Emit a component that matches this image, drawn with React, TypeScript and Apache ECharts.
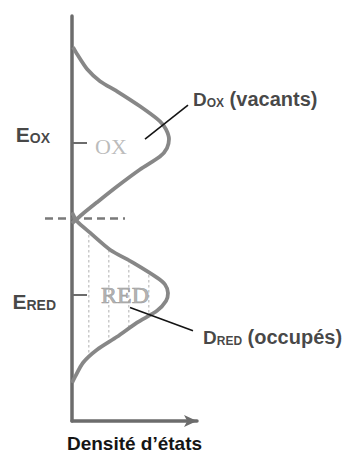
import React, { useEffect, useRef } from 'react';
import * as echarts from 'echarts';

// Density of states of the oxidised species (vacant states), read from top to bottom
const oxDensity = [0.8, 4, 12, 22.4, 36, 54.4, 70.4, 75.2, 77.6, 76, 70.4, 54.4, 36, 20, 8, 0];
const oxEnergy = [92.3, 90.6, 86.9, 83.9, 81.4, 77.7, 74.0, 72.0, 69.6, 67.4, 65.3, 62.1, 57.9, 54.0, 51.0, 48.8];

// Density of states of the reduced species (occupied states)
const redDensity = [0, 4, 14.4, 30.4, 48.8, 68, 74.4, 76.8, 75.2, 68, 52, 36, 20, 8.8, 2.4, 0];
const redEnergy = [51.5, 49.3, 46.5, 42.3, 39.1, 35.4, 33.7, 31.6, 29.6, 27.2, 24.3, 20.8, 17.6, 14.4, 10.9, 9.4];

// Energy levels (labels on the energy axis)
const levelNames = ['OX', 'RED'];
const levelEnergies = [68.8, 31.2];

// In-band labels
const bandNames = ['OX', 'RED'];
const bandDensity = [31.2, 42.4];
const bandEnergy = [67.9, 31.0];

// Dashed level between the two bands
const fermiEnergy = 50.0;
const fermiDensitySpan = [-21.6, 42.4];

// Annotation leader lines: [density, energy] from curve to label
const oxPointerDensity = [58.4, 92.8];
const oxPointerEnergy = [69.6, 78.0];
const redPointerDensity = [46.4, 96.8];
const redPointerEnergy = [28.0, 22.3];
const annotationSubs = ['OX', 'RED'];
const annotationTexts = [' (vacants)', ' (occupés)'];

const xAxisName = 'Densité d’états';

const SANS = '"Liberation Sans", Arial, sans-serif';
const SERIF = '"Liberation Serif", "Times New Roman", serif';
const AXIS_COLOR = '#6c6c6c';
const CURVE_COLOR = '#878787';
const TEXT_COLOR = '#151515';

function zip(a: number[], b: number[]) {
  return a.map((v, i) => [v, b[i]]);
}

function makePattern() {
  const c = document.createElement('canvas');
  c.width = 20;
  c.height = 5;
  const ctx = c.getContext('2d');
  if (ctx) {
    ctx.fillStyle = 'rgba(150,150,150,0.5)';
    ctx.fillRect(8, 0, 1.5, 2.5);
  }
  return { image: c.toDataURL(), repeat: 'repeat', imageWidth: 20, imageHeight: 5 };
}

export default function App() {
  const ref = useRef<HTMLDivElement>(null);

  useEffect(() => {
    if (!ref.current) return;
    const chart = echarts.init(ref.current, undefined, { renderer: 'svg' });
    const redPoints = zip(redDensity, redEnergy);
    const pattern = makePattern();

    const option: any = {
      animation: false,
      backgroundColor: '#ffffff',
      grid: { left: 72, right: 145, top: 16, bottom: 32, containLabel: false, outerBoundsMode: 'none' },
      xAxis: {
        type: 'value',
        min: 0,
        max: 100,
        name: xAxisName,
        nameLocation: 'middle',
        nameGap: 13,
        nameTextStyle: { fontFamily: SANS, fontSize: 19, fontWeight: 'bold', color: TEXT_COLOR },
        axisLine: {
          show: true,
          onZero: false,
          symbol: ['none', 'arrow'],
          symbolSize: [9, 13],
          lineStyle: { color: AXIS_COLOR, width: 3.5 },
        },
        axisTick: { show: false },
        axisLabel: { show: false },
        splitLine: { show: false },
      },
      yAxis: {
        type: 'value',
        min: 0,
        max: 100,
        axisLine: { show: true, onZero: false, lineStyle: { color: AXIS_COLOR, width: 3.5 } },
        axisTick: {
          show: true,
          inside: true,
          length: 15,
          customValues: levelEnergies,
          lineStyle: { color: AXIS_COLOR, width: 2 },
        },
        axisLabel: { show: false },
        splitLine: { show: false },
      },
      series: [
        {
          type: 'custom',
          name: 'redFill',
          z: 1,
          data: redPoints,
          renderItem: (params: any, api: any) => {
            if (params.dataIndex !== 0) return null;
            const pts = redPoints.map((p) => api.coord(p));
            return {
              type: 'polygon',
              shape: { points: pts, smooth: 0.25 },
              style: { fill: pattern, stroke: 'none' },
            };
          },
        },
        {
          type: 'custom',
          name: 'level',
          z: 2,
          data: [fermiEnergy],
          renderItem: (params: any, api: any) => {
            const a = api.coord([fermiDensitySpan[0], fermiEnergy]);
            const b = api.coord([fermiDensitySpan[1], fermiEnergy]);
            return {
              type: 'line',
              shape: { x1: a[0], y1: a[1], x2: b[0], y2: b[1] },
              style: { stroke: '#7a7a7a', lineWidth: 2.5, lineDash: [8, 5] },
            };
          },
        },
        {
          type: 'line',
          name: 'OX',
          z: 3,
          data: zip(oxDensity, oxEnergy),
          smooth: 0.25,
          symbol: 'none',
          clip: false,
          lineStyle: { color: CURVE_COLOR, width: 3.8 },
        },
        {
          type: 'line',
          name: 'RED',
          z: 3,
          data: redPoints,
          smooth: 0.25,
          symbol: 'none',
          clip: false,
          lineStyle: { color: CURVE_COLOR, width: 3.8 },
        },
        {
          type: 'line',
          name: 'oxPointer',
          z: 4,
          data: zip(oxPointerDensity, oxPointerEnergy),
          symbol: 'none',
          clip: false,
          lineStyle: { color: '#141414', width: 1.6 },
        },
        {
          type: 'line',
          name: 'redPointer',
          z: 4,
          data: zip(redPointerDensity, redPointerEnergy),
          symbol: 'none',
          clip: false,
          lineStyle: { color: '#141414', width: 1.6 },
        },
        {
          type: 'scatter',
          name: 'levelLabels',
          z: 5,
          clip: false,
          symbolSize: 0,
          data: [
            { value: [0, levelEnergies[0]], label: { offset: [-6, -8] } },
            { value: [0, levelEnergies[1]], label: { offset: [0, 6] } },
          ],
          label: {
            show: true,
            position: 'left',
            distance: 16,
            formatter: (p: any) => `{e|E}{s|${levelNames[p.dataIndex]}}`,
            rich: {
              e: { fontFamily: SANS, fontSize: 21, fontWeight: 'bold', color: TEXT_COLOR, lineHeight: 22, verticalAlign: 'bottom' },
              s: { fontFamily: SANS, fontSize: 14, fontWeight: 'bold', color: TEXT_COLOR, lineHeight: 10, verticalAlign: 'bottom' },
            },
          },
        },
        {
          type: 'scatter',
          name: 'annotations',
          z: 5,
          clip: false,
          symbolSize: 0,
          data: [
            { value: [oxPointerDensity[1], oxPointerEnergy[1]], label: { offset: [5, -7] } },
            { value: [redPointerDensity[1], redPointerEnergy[1]], label: { offset: [10, 5.5] } },
          ],
          label: {
            show: true,
            position: 'right',
            distance: 0,
            formatter: (p: any) => `{d|D}{s|${annotationSubs[p.dataIndex]}}{t|${annotationTexts[p.dataIndex]}}`,
            rich: {
              d: { fontFamily: SANS, fontSize: 19, fontWeight: 'bold', color: TEXT_COLOR, lineHeight: 22, verticalAlign: 'bottom' },
              s: { fontFamily: SANS, fontSize: 12, fontWeight: 'bold', color: TEXT_COLOR, lineHeight: 10, verticalAlign: 'bottom' },
              t: { fontFamily: SANS, fontSize: 20, fontWeight: 'bold', color: TEXT_COLOR, lineHeight: 22, verticalAlign: 'bottom' },
            },
          },
        },
        {
          type: 'scatter',
          name: 'bandLabels',
          z: 5,
          clip: false,
          symbolSize: 0,
          data: [
            { value: [bandDensity[0], bandEnergy[0]], label: { color: '#aaaaaa', textBorderWidth: 0 } },
            { value: [bandDensity[1], bandEnergy[1]], label: { fontSize: 24 } },
          ],
          label: {
            show: true,
            position: 'inside',
            formatter: (p: any) => bandNames[p.dataIndex],
            fontFamily: SERIF,
            fontSize: 22,
            color: '#a0a0a0',
            textBorderColor: '#888888',
            textBorderWidth: 0.7,
          },
        },
      ],
    };
    chart.setOption(option);
    return () => chart.dispose();
  }, []);

  return (
    <div
      ref={ref}
      style={{ position: 'fixed', left: 0, top: 0, width: 342, height: 453, background: '#ffffff' }}
    />
  );
}
